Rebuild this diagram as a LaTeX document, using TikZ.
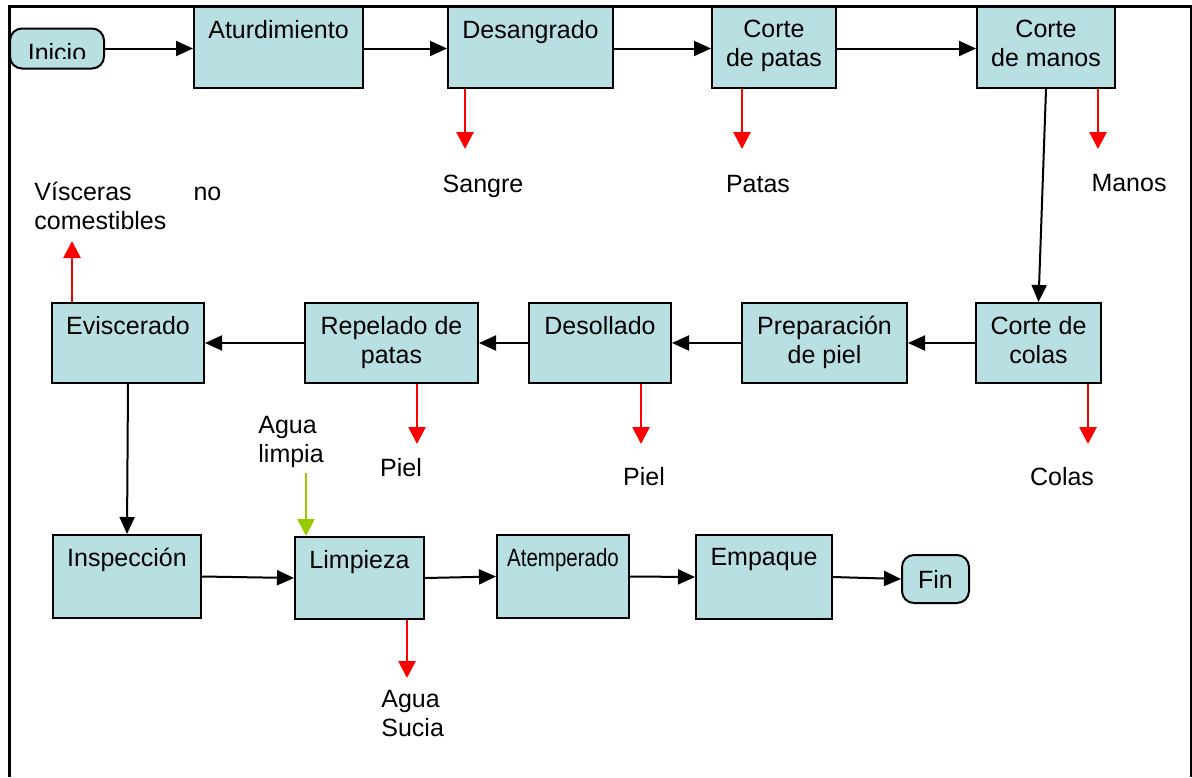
\documentclass[tikz,border=0pt]{standalone}
\usepackage{fontspec}
\setmainfont{Liberation Sans}
\usetikzlibrary{arrows.meta}
\definecolor{boxfill}{HTML}{B8DFE2}
\definecolor{flowred}{HTML}{FF0000}
\definecolor{flowgreen}{HTML}{99CC00}
\begin{document}
\begin{tikzpicture}[x=0.5pt,y=-0.5pt,
  font=\fontsize{12.5}{14.5}\selectfont,
  proc/.style={draw=black, line width=1pt, fill=boxfill, inner sep=0pt},
  sz/.style 2 args={minimum width=#1*0.5pt, minimum height=#2*0.5pt},
  ttl/.style={label={[anchor=north,align=center,inner sep=7pt]north:#1}},
  term/.style={proc, rounded corners=6pt},
  flow/.style={draw=black, line width=1pt, -{Triangle[length=8.5pt,width=7.5pt]}},
  outflow/.style={draw=flowred, line width=1.4pt, -{Triangle[length=8.5pt,width=8.5pt]}},
  inflow/.style={draw=flowgreen, line width=1.4pt, -{Triangle[length=8.5pt,width=8.5pt]}},
  lbl/.style={inner sep=0pt, align=left},
]
\useasboundingbox (0,0) rectangle (1192,777);

% outer frame (open at the bottom)
\draw[line width=1.5pt] (9,777) -- (9,6) -- (1191,6) -- (1191,777);

% ---- first row ----
\node[term, sz={94}{40}] (ini) at (57,48.5) {};
\begin{scope}
  \clip (10,29) rectangle (103,58.5);
  \node[anchor=north, inner sep=0pt] (initxt) at (57,43) {Inicio};
\end{scope}
\node[proc, sz={169}{81}, ttl={Aturdimiento}] (atu) at (278.5,47.5) {};
\node[proc, sz={165}{81}, ttl={Desangrado}]   (des) at (530.5,47.5) {};
\node[proc, sz={124}{81}, ttl={Corte\\de patas}] (cpa) at (774,47.5) {};
\node[proc, sz={138}{81}, ttl={Corte\\de manos}] (cma) at (1046,47.5) {};

% ---- second row ----
\node[proc, sz={152}{80}, ttl={Eviscerado}] (evi) at (128,343) {};
\node[proc, sz={173}{80}, ttl={Repelado de\\patas}] (rep) at (391.5,343) {};
\node[proc, sz={142}{80}, ttl={Desollado}] (dso) at (600,343) {};
\node[proc, sz={165}{80}, ttl={Preparación\\de piel}] (pre) at (824.5,343) {};
\node[proc, sz={125}{80}, ttl={Corte de\\colas}] (cco) at (1038.5,343) {};

% ---- third row ----
\node[proc, sz={148}{83}, ttl={Inspección}] (ins) at (127,576.5) {};
\node[proc, sz={129}{82}, ttl={Limpieza}]   (lim) at (359.5,578) {};
\node[proc, sz={132}{83}, ttl={\scalebox{0.82}[1]{Atemperado}}] (ate) at (563,576.5) {};
\node[proc, sz={136}{84}, ttl={Empaque}]    (emp) at (764,577) {};
\node[term, sz={67}{48}] (fin) at (935.5,579) {Fin};

% ---- side streams (labels) ----
\node[lbl, anchor=base] (sangre) at (483,192) {Sangre};
\node[lbl, anchor=base] (patas)  at (758,192) {Patas};
\node[lbl, anchor=base] (manos)  at (1129,191) {Manos};
\node[lbl, anchor=base] (piel1)  at (401,476) {Piel};
\node[lbl, anchor=base] (piel2)  at (644,485) {Piel};
\node[lbl, anchor=base] (colas)  at (1062,485) {Colas};
\node[lbl, anchor=north west] (visc) at (34,182) {\hbox to 93.5pt{Vísceras\hfill no}\\comestibles};
\node[lbl, anchor=north west] (aguaL) at (258,416) {Agua\\limpia};
\node[lbl, anchor=north west] (aguaS) at (381,690) {Agua\\Sucia};

% free ends of the side-stream arrows
\coordinate (sA) at (465,149);
\coordinate (pA) at (742,149);
\coordinate (mA) at (1098,149);
\coordinate (rA) at (417,444);
\coordinate (dA) at (641,444);
\coordinate (cA) at (1088,444);
\coordinate (vA) at (72,241);
\coordinate (lA) at (407,678);
\coordinate (gA) at (306,473);

% ---- main flow ----
\draw[flow] (ini.east) -- (ini.east -| atu.west);
\draw[flow] (atu.east |- ini.east) -- (des.west |- ini.east);
\draw[flow] (des.east |- ini.east) -- (cpa.west |- ini.east);
\draw[flow] (cpa.east |- ini.east) -- (cma.west |- ini.east);
\draw[flow] (cma.south) -- (cco.north);
\draw[flow] (cco.west) -- (pre.east);
\draw[flow] (pre.west) -- (dso.east);
\draw[flow] (dso.west) -- (rep.east);
\draw[flow] (rep.west) -- (evi.east);
\draw[flow] (evi.south) -- (ins.north);
\draw[flow] (ins.east) -- (lim.west);
\draw[flow] (lim.east) -- (ate.west);
\draw[flow] (ate.east) -- (emp.west);
\draw[flow] (emp.east) -- (fin.west);

% ---- by-products and water ----
\draw[outflow] (des.south -| sA) -- (sA);
\draw[outflow] (cpa.south -| pA) -- (pA);
\draw[outflow] (cma.south -| mA) -- (mA);
\draw[outflow] (rep.south -| rA) -- (rA);
\draw[outflow] (dso.south -| dA) -- (dA);
\draw[outflow] (cco.south -| cA) -- (cA);
\draw[outflow] (evi.north -| vA) -- (vA);
\draw[outflow] (lim.south -| lA) -- (lA);
\draw[inflow] (gA) -- (lim.north -| gA);
\end{tikzpicture}
\end{document}
